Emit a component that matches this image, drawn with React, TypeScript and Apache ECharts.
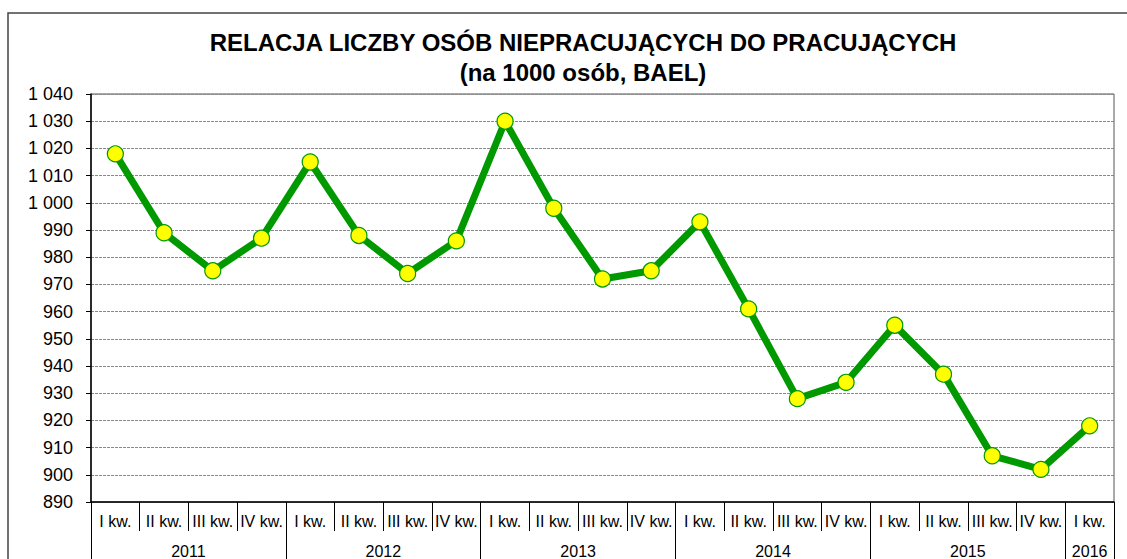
import React, { useEffect, useRef } from "react";
import * as echarts from "echarts";

const quarters = [
  "I kw.", "II kw.", "III kw.", "IV kw.",
  "I kw.", "II kw.", "III kw.", "IV kw.",
  "I kw.", "II kw.", "III kw.", "IV kw.",
  "I kw.", "II kw.", "III kw.", "IV kw.",
  "I kw.", "II kw.", "III kw.", "IV kw.",
  "I kw.",
];
const values = [
  1018, 989, 975, 987,
  1015, 988, 974, 986,
  1030, 998, 972, 975,
  993, 961, 928, 934,
  955, 937, 907, 902,
  918,
];
const years = ["2011", "2012", "2013", "2014", "2015", "2016"];
const yearCenters = [2, 6, 10, 14, 18, 20.5];
const yearBounds = [0, 4, 8, 12, 16, 20, 21];
const yTicks = { min: 890, max: 1040, step: 10 };

const FONT = "Liberation Sans, Arial, sans-serif";

function fmtThousands(v: number): string {
  const s = String(Math.round(v));
  return s.replace(/\B(?=(\d{3})+(?!\d))/g, " ");
}

export default function App() {
  const ref = useRef<HTMLDivElement>(null);
  useEffect(() => {
    document.body.style.margin = "0";
    if (!ref.current) return;
    const chart = echarts.init(ref.current, null, { renderer: "svg" });
    chart.setOption({
      animation: false,
      backgroundColor: "#ffffff",
      textStyle: { fontFamily: FONT },
      title: {
        text: "RELACJA LICZBY OSÓB NIEPRACUJĄCYCH DO PRACUJĄCYCH\n(na 1000 osób, BAEL)",
        left: 583,
        top: 27,
        padding: 0,
        textAlign: "center",
        textStyle: {
          fontFamily: FONT,
          fontSize: 24,
          fontWeight: "bold",
          color: "#000",
          lineHeight: 30,
          align: "center",
        },
      },
      graphic: [
        {
          type: "rect",
          shape: { x: 8, y: 13, width: 1300, height: 700 },
          style: { fill: "none", stroke: "#444", lineWidth: 1.5 },
          silent: true,
        },
      ],
      grid: {
        left: 91,
        top: 94,
        right: 1127 - 1114,
        bottom: 559 - 504,
        show: true,
        borderColor: "#555",
        borderWidth: 1,
      },
      xAxis: [
        {
          type: "category",
          data: quarters,
          boundaryGap: true,
          position: "bottom",
          axisLine: { show: true, lineStyle: { color: "#000", width: 1.5 } },
          axisTick: { show: true, interval: 0, length: 29, lineStyle: { color: "#000", width: 1 } },
          axisLabel: { interval: 0, margin: 11, fontSize: 16, color: "#000", fontFamily: FONT },
          splitLine: { show: false },
        },
        {
          type: "value",
          min: 0,
          max: quarters.length,
          position: "bottom",
          axisLine: { show: false },
          axisTick: {
            show: true,
            length: 70,
            customValues: yearBounds,
            lineStyle: { color: "#000", width: 1 },
          },
          axisLabel: {
            show: true,
            margin: 41,
            fontSize: 16,
            color: "#000",
            fontFamily: FONT,
            customValues: yearCenters,
            formatter: (v: number) => {
              const i = yearCenters.indexOf(v);
              return i >= 0 ? years[i] : "";
            },
          },
          splitLine: { show: false },
        },
      ],
      yAxis: {
        type: "value",
        min: yTicks.min,
        max: yTicks.max,
        interval: yTicks.step,
        axisLine: { show: true, lineStyle: { color: "#000", width: 1.5 } },
        axisTick: { show: true, length: 5, lineStyle: { color: "#000" } },
        axisLabel: {
          fontSize: 18,
          color: "#000",
          fontFamily: FONT,
          margin: 18,
          formatter: (v: number) => fmtThousands(v),
        },
        splitLine: { show: true, lineStyle: { color: "#888", type: [3, 1], width: 1 } },
      },
      series: [
        {
          type: "line",
          xAxisIndex: 0,
          data: values,
          symbol: "circle",
          symbolSize: 16,
          lineStyle: { color: "#009900", width: 7 },
          itemStyle: { color: "#ffff00", borderColor: "#009900", borderWidth: 1.2 },
          z: 5,
        },
      ],
    });
    return () => chart.dispose();
  }, []);
  return <div ref={ref} style={{ width: 1127, height: 559 }} />;
}
